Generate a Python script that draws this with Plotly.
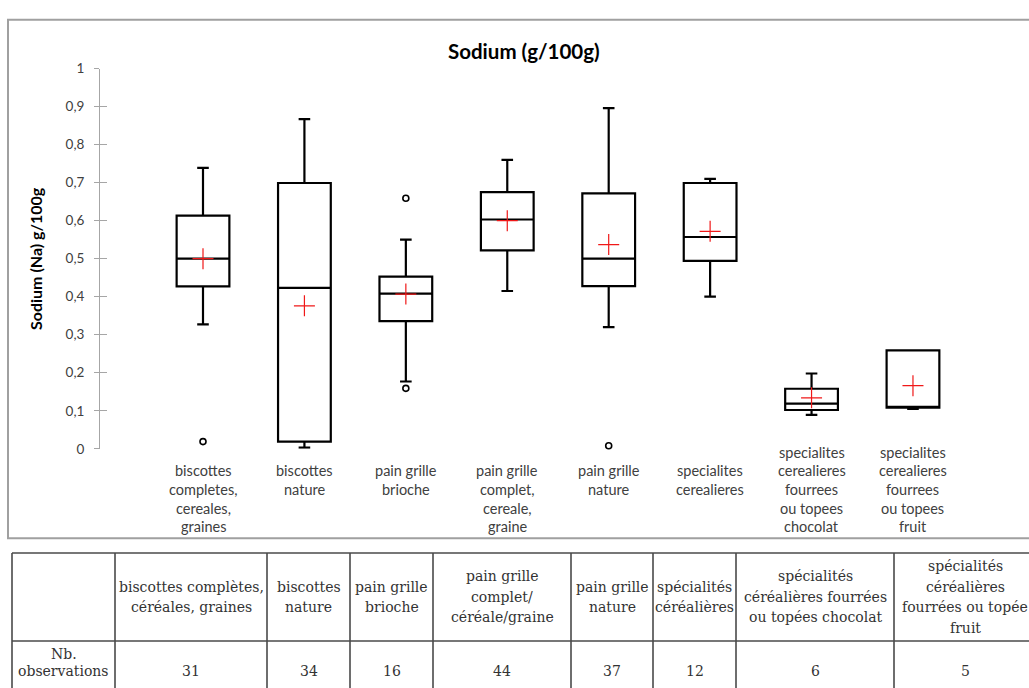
import plotly.graph_objects as go

W, H = 1029, 688

# ---------------- data ----------------
categories = ["biscottes completes", "biscottes nature", "pain grille brioche",
              "pain grille complet", "pain grille nature", "specialites cerealieres",
              "specialites chocolat", "specialites fruit"]
axis_label_lines = [
    ["biscottes", "completes,", "cereales,", "graines"],
    ["biscottes", "nature"],
    ["pain grille", "brioche"],
    ["pain grille", "complet,", "cereale,", "graine"],
    ["pain grille", "nature"],
    ["specialites", "cerealieres"],
    ["specialites", "cerealieres", "fourrees", "ou topees", "chocolat"],
    ["specialites", "cerealieres", "fourrees", "ou topees", "fruit"],
]
lower_whisker = [0.327, 0.003, 0.177, 0.415, 0.320, 0.400, 0.089, 0.105]
q1 =            [0.427, 0.019, 0.336, 0.522, 0.428, 0.494, 0.102, 0.108]
median =        [0.500, 0.423, 0.408, 0.603, 0.500, 0.557, 0.119, 0.108]
q3 =            [0.613, 0.699, 0.453, 0.675, 0.672, 0.699, 0.158, 0.259]
upper_whisker = [0.739, 0.867, 0.550, 0.760, 0.896, 0.710, 0.198, 0.259]
mean =          [0.500, 0.376, 0.407, 0.600, 0.537, 0.572, 0.134, 0.166]
outlier_cat = [categories[0], categories[2], categories[2], categories[4]]
outlier_val = [0.019, 0.659, 0.159, 0.008]
y_ticks = [0, 0.1, 0.2, 0.3, 0.4, 0.5, 0.6, 0.7, 0.8, 0.9, 1.0]

title_text = "Sodium (g/100g)"
y_title = "Sodium (Na) g/100g"

table_header_lines = [
    ["biscottes complètes,", "céréales, graines"],
    ["biscottes", "nature"],
    ["pain grille", "brioche"],
    ["pain grille", "complet/", "céréale/graine"],
    ["pain grille", "nature"],
    ["spécialités", "céréalières"],
    ["spécialités", "céréalières fourrées", "ou topées chocolat"],
    ["spécialités", "céréalières", "fourrées ou topée", "fruit"],
]
row_label_lines = ["Nb.", "observations"]
n_obs = [31, 34, 16, 44, 37, 12, 6, 5]

# ---------------- layout helpers ----------------
def px_x(p):
    return p / W

def px_y(p):
    return 1 - p / H

CHART_FONT = "Lato"
TABLE_FONT = "DejaVu Serif"

fig = go.Figure()

fig.add_trace(go.Box(
    x=categories, q1=q1, median=median, q3=q3,
    lowerfence=lower_whisker, upperfence=upper_whisker,
    boxpoints=False, width=0.52, whiskerwidth=0.22,
    fillcolor="rgba(255,255,255,0)",
    line=dict(color="black", width=2.2),
    showlegend=False, hoverinfo="skip",
))

fig.add_trace(go.Scatter(
    x=categories, y=mean, mode="markers",
    marker=dict(symbol="cross-thin", size=15, color="red",
                line=dict(color="#f01818", width=1.2)),
    showlegend=False, cliponaxis=False, hoverinfo="skip",
))

fig.add_trace(go.Scatter(
    x=outlier_cat, y=outlier_val, mode="markers",
    marker=dict(symbol="circle-open", size=6, color="black",
                line=dict(color="black", width=1.6)),
    showlegend=False, cliponaxis=False, hoverinfo="skip",
))

x_left, x_right = 100, 1014.4
y_top, y_bottom = 62, 451.3

fig.update_layout(
    width=W, height=H,
    margin=dict(l=0, r=0, t=0, b=0),
    paper_bgcolor="white", plot_bgcolor="white",
    separators=", ",
    showlegend=False,
    xaxis=dict(
        domain=[px_x(x_left), px_x(x_right)],
        type="category", categoryorder="array", categoryarray=categories,
        range=[-1.0155, 8],
        showticklabels=False, showline=False, showgrid=False, zeroline=False,
        ticks="",
    ),
    yaxis=dict(
        domain=[px_y(y_bottom), px_y(y_top)],
        range=[0, 1], tickvals=y_ticks,
        showline=True, linecolor="#a6a6a6", linewidth=1,
        ticks="outside", ticklen=5, tickcolor="#a6a6a6", tickwidth=1,
        ticklabelstandoff=7,
        showgrid=False, zeroline=False,
        tickfont=dict(family=CHART_FONT, size=13.5, color="#404040"),
    ),
    yaxis2=dict(
        domain=[px_y(y_bottom), px_y(y_top)],
        overlaying="y", anchor="x", side="left",
        range=[0, 1], tickvals=y_ticks,
        showline=False, showticklabels=False,
        ticks="inside", ticklen=7, tickcolor="#a6a6a6", tickwidth=1,
        showgrid=False, zeroline=False,
    ),
)
# invisible trace to activate yaxis2 (crossing tick marks)
fig.add_trace(go.Scatter(x=[categories[0]], y=[0], yaxis="y2", mode="markers",
                         marker=dict(opacity=0), showlegend=False, hoverinfo="skip"))

annotations = []
shapes = []

# chart border
shapes.append(dict(type="rect", xref="paper", yref="paper",
                   x0=px_x(8), x1=px_x(1040), y0=px_y(543), y1=px_y(12),
                   line=dict(color="#a0a0a0", width=2), layer="below"))

# title
annotations.append(dict(text=f"<b>{title_text}</b>", xref="paper", yref="paper",
                        x=px_x(524), y=px_y(44), xanchor="center", yanchor="middle",
                        showarrow=False, font=dict(family=CHART_FONT, size=20.5, color="black")))
# y axis title
annotations.append(dict(text=f"<b>{y_title}</b>", xref="paper", yref="paper",
                        x=px_x(35), y=px_y(257), xanchor="center", yanchor="middle",
                        textangle=-90, showarrow=False,
                        font=dict(family=CHART_FONT, size=16, color="black")))

# category labels below the axis (one annotation per line)
line_h = 19
for cat, lines in zip(categories, axis_label_lines):
    start = min(474, 531 - (len(lines) - 1) * line_h)
    for j, ln in enumerate(lines):
        annotations.append(dict(text=ln, xref="x", yref="paper", x=cat,
                                y=px_y(start + j * line_h), xanchor="center", yanchor="middle",
                                showarrow=False,
                                font=dict(family=CHART_FONT, size=14.5, color="#404040")))

# ---------------- table ----------------
col_edges = [12, 115, 267, 350, 433, 571, 653, 736, 894, 1036]
row_top, row_mid, row_bot = 558, 648, 710
tline = dict(color="#4a4a4a", width=1.6)
for yy in (row_top, row_mid):
    shapes.append(dict(type="line", xref="paper", yref="paper",
                       x0=px_x(col_edges[0]), x1=px_x(col_edges[-1]),
                       y0=px_y(yy), y1=px_y(yy), line=tline))
for xx in col_edges:
    shapes.append(dict(type="line", xref="paper", yref="paper",
                       x0=px_x(xx), x1=px_x(xx), y0=px_y(row_top), y1=px_y(row_bot), line=tline))

tfont = dict(family=TABLE_FONT, size=14, color="#333333")
head_lh = 21
head_center = 603
for i, lines in enumerate(table_header_lines):
    cx = (col_edges[i + 1] + col_edges[i + 2]) / 2
    n = len(lines)
    y0 = head_center - (n - 1) * head_lh / 2
    for j, ln in enumerate(lines):
        annotations.append(dict(text=ln, xref="paper", yref="paper",
                                x=px_x(cx), y=px_y(y0 + j * head_lh),
                                xanchor="center", yanchor="middle", showarrow=False, font=tfont))
    annotations.append(dict(text=str(n_obs[i]), xref="paper", yref="paper",
                            x=px_x(cx), y=px_y(679), xanchor="center", yanchor="middle",
                            showarrow=False, font=tfont))
cx0 = (col_edges[0] + col_edges[1]) / 2
for j, ln in enumerate(row_label_lines):
    annotations.append(dict(text=ln, xref="paper", yref="paper",
                            x=px_x(cx0), y=px_y(661 + j * 18),
                            xanchor="center", yanchor="middle", showarrow=False, font=tfont))

fig.update_layout(annotations=annotations, shapes=shapes)

fig.write_html("out.html")
